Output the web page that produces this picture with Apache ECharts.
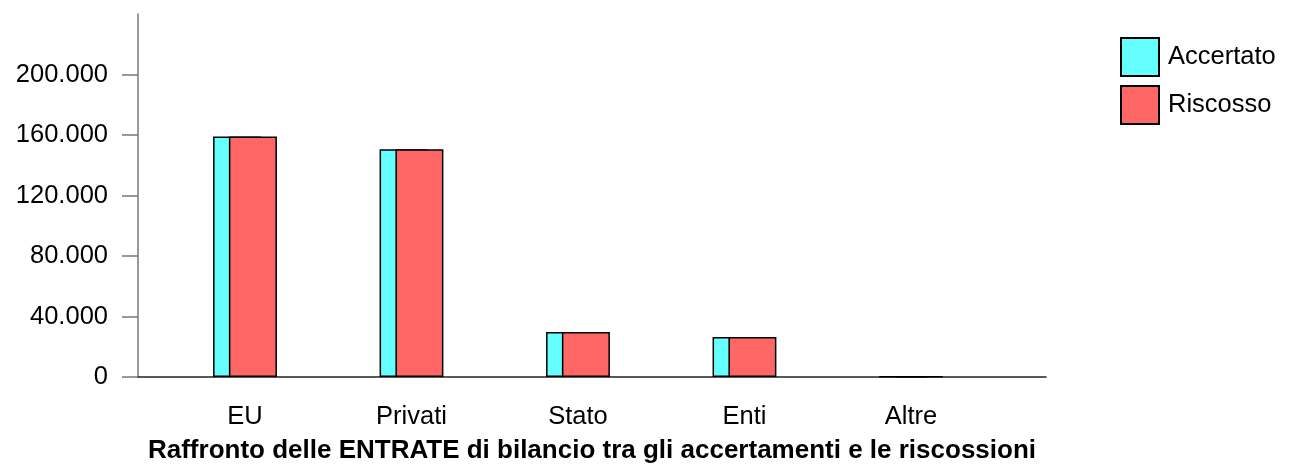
<!DOCTYPE html>
<html><head><meta charset="utf-8">
<script src="https://cdn.jsdelivr.net/npm/echarts@6/dist/echarts.min.js"></script>
<style>html,body{margin:0;padding:0;background:#fff}#c{width:1297px;height:464px}</style>
</head><body><div id="c"></div>
<script>
var categories = ['EU', 'Privati', 'Stato', 'Enti', 'Altre'];
var accertato = [159000, 150500, 29800, 26400, 200];
var riscosso  = [159000, 150500, 29800, 26400, 200];
var yTicks = [0, 40000, 80000, 120000, 160000, 200000];
var seriesNames = ['Accertato', 'Riscosso'];
var titleText = 'Raffronto delle ENTRATE di bilancio tra gli accertamenti e le riscossioni';

function fmt(v){ return String(v).replace(/\B(?=(\d{3})+(?!\d))/g, '.'); }
var idx = categories.map(function(_, i){ return i; });
function pairs(arr){ return arr.map(function(v, i){ return [i, v]; }); }

var FONT = 'Liberation Sans, Arial, sans-serif';
var chart = echarts.init(document.getElementById('c'), null, {renderer:'canvas'});
chart.setOption({
  animation: false,
  backgroundColor: '#fff',
  grid: {left: 138, right: 251, top: 14, bottom: 87, containLabel: false, outerBoundsMode: 'none'},
  legend: {
    orient: 'vertical', left: 1120, top: 37, padding: 0,
    itemWidth: 38, itemHeight: 38, itemGap: 8,
    icon: 'rect',
    textStyle: {fontFamily: FONT, fontSize: 25.5, color: '#000', padding: [0,0,0,4]},
    data: seriesNames
  },
  xAxis: {
    type: 'value', min: -0.6426, max: 4.811,
    splitLine: {show: false},
    axisTick: {show: false},
    axisLine: {show: true, onZero: false, lineStyle: {color: '#222', width: 1.5}},
    axisLabel: {
      customValues: idx, margin: 27,
      fontFamily: FONT, fontSize: 25.5, color: '#000',
      formatter: function(v){ return categories[Math.round(v)] || ''; }
    },
    name: titleText, nameLocation: 'middle', nameGap: 61,
    nameTextStyle: {fontFamily: FONT, fontSize: 26, fontWeight: 'bold', color: '#000'}
  },
  yAxis: {
    type: 'value', min: 0, max: 240000, interval: 40000,
    splitLine: {show: false},
    axisLine: {show: true, onZero: false, lineStyle: {color: '#777', width: 1.5}},
    axisTick: {show: true, inside: false, length: 16, customValues: yTicks, lineStyle: {color: '#777', width: 1.5}},
    axisLabel: {customValues: yTicks, margin: 30, fontFamily: FONT, fontSize: 25.5, color: '#000',
      formatter: function(v){ return fmt(v); }}
  },
  series: [
    {name: seriesNames[0], type: 'bar', data: pairs(accertato), barWidth: 48, barGap: '-67%',
     itemStyle: {color: '#66FFFF', borderColor: '#000', borderWidth: 1.5}},
    {name: seriesNames[1], type: 'bar', data: pairs(riscosso), barWidth: 48, barGap: '-67%',
     itemStyle: {color: '#FF6666', borderColor: '#000', borderWidth: 1.5}}
  ]
});
</script></body></html>
